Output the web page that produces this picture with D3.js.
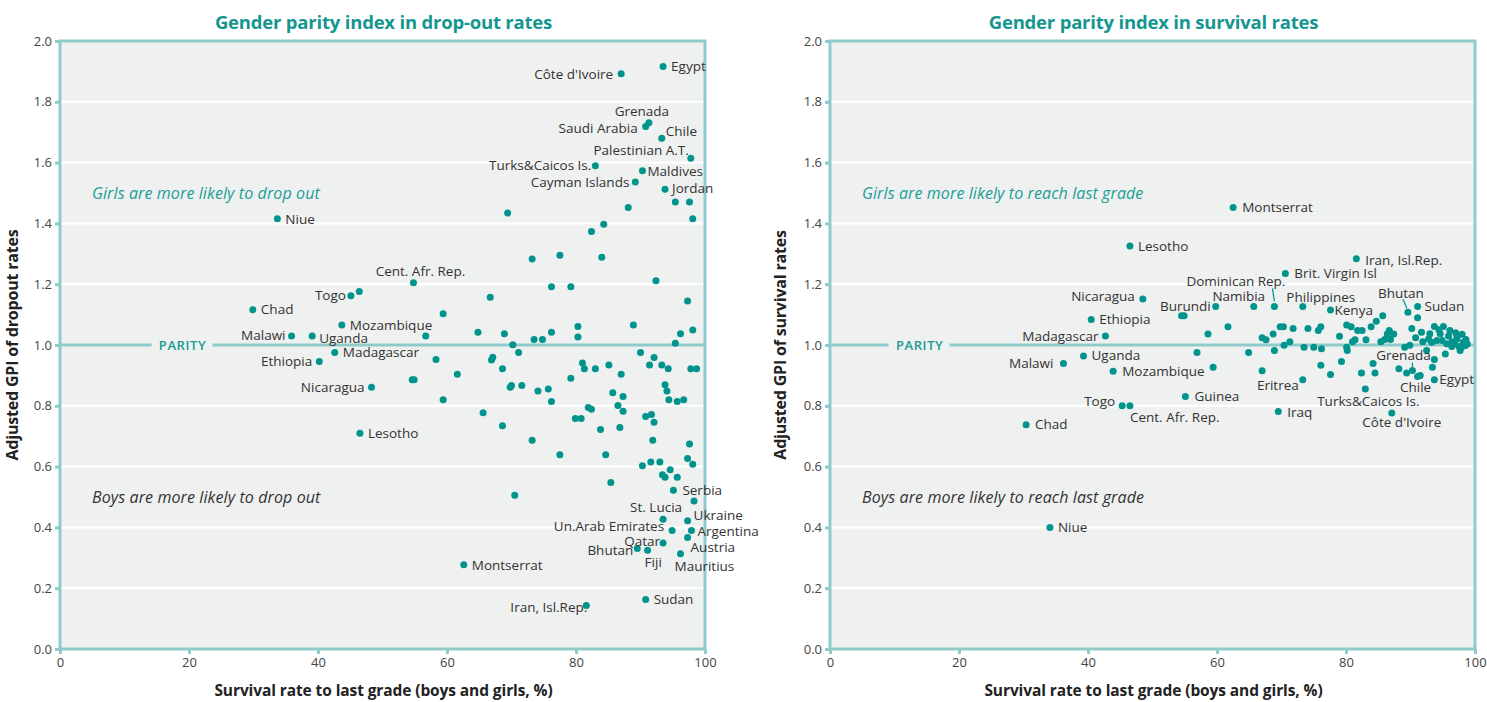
<!DOCTYPE html>
<html><head><meta charset="utf-8">
<script src="https://cdn.jsdelivr.net/npm/d3@7"></script>
<style>body{margin:0;background:#fff;} svg{display:block;}</style>
</head><body><svg id="c" width="1487" height="702"></svg>
<script>
// ---------- axes ----------
const xTickValues = [0, 20, 40, 60, 80, 100];
const yTickValues = [0, 0.2, 0.4, 0.6, 0.8, 1.0, 1.2, 1.4, 1.6, 1.8, 2.0];
const panelTitles = ["Gender parity index in drop-out rates", "Gender parity index in survival rates"];
const yAxisTitles = ["Adjusted GPI of dropout rates", "Adjusted GPI of survival rates"];
const xAxisTitle = "Survival rate to last grade (boys and girls, %)";
const girlsNotes = ["Girls are more likely to drop out", "Girls are more likely to reach last grade"];
const boysNotes = ["Boys are more likely to drop out", "Boys are more likely to reach last grade"];

// ---------- panel 1: drop-out GPI ----------
const dropoutCountries = ["Côte d'Ivoire","Egypt","Grenada","Saudi Arabia","Chile","Palestinian A.T.","Turks&Caicos Is.","Maldives","Cayman Islands","Jordan","Niue","Cent. Afr. Rep.","Togo","Chad","Mozambique","Malawi","Uganda","Madagascar","Ethiopia","Nicaragua","Lesotho","Serbia","St. Lucia","Ukraine","Un.Arab Emirates","Argentina","Austria","Qatar","Bhutan","Fiji","Mauritius","Montserrat","Sudan","Iran, Isl.Rep."];
const dropoutSurvival = [87.0,93.5,91.3,90.8,93.3,97.8,83.0,90.3,89.2,93.8,33.7,54.8,45.1,29.9,43.7,35.9,39.1,42.6,40.2,48.3,46.5,95.1,93.5,97.3,94.9,97.9,97.3,93.5,89.5,91.1,96.2,62.6,90.8,81.6];
const dropoutGPI = [1.892,1.916,1.731,1.719,1.680,1.614,1.590,1.573,1.536,1.512,1.415,1.205,1.162,1.116,1.066,1.030,1.030,0.975,0.946,0.861,0.710,0.522,0.427,0.422,0.390,0.390,0.367,0.349,0.331,0.325,0.313,0.277,0.163,0.143];
// unlabelled countries
const dropoutOtherSurvival = [95.4,97.6,98.1,69.4,88.1,84.3,82.4,77.5,73.2,84.0,92.4,76.2,79.2,66.7,97.3,46.4,59.4,56.7,64.8,68.9,80.3,80.3,76.2,73.5,74.8,88.9,98.1,96.2,95.4,70.2,
  71.1,58.3,67.1,66.9,68.6,54.6,54.9,61.6,81.0,81.3,83.0,85.1,87.0,90.0,92.1,91.4,93.3,94.3,97.8,98.7,79.2,69.8,70.0,71.6,74.1,75.7,76.2,59.4,85.7,87.3,86.5,87.3,93.8,94.1,94.4,95.7,96.7,
  65.6,68.6,73.2,77.5,79.9,80.8,81.9,82.4,83.8,84.6,86.8,90.8,91.7,92.1,91.9,97.6,97.3,98.1,90.3,91.6,93.0,94.6,93.4,93.8,95.7,85.4,98.3,70.5];
const dropoutOtherGPI = [1.470,1.470,1.415,1.434,1.452,1.397,1.373,1.295,1.283,1.289,1.211,1.192,1.192,1.157,1.145,1.176,1.103,1.030,1.042,1.037,1.061,1.026,1.042,1.018,1.018,1.066,1.049,1.037,1.006,1.001,
  0.975,0.952,0.960,0.951,0.922,0.886,0.886,0.904,0.941,0.922,0.922,0.934,0.904,0.975,0.959,0.934,0.934,0.922,0.922,0.922,0.891,0.861,0.867,0.867,0.849,0.855,0.814,0.820,0.843,0.831,0.801,0.782,0.869,0.849,0.820,0.814,0.820,
  0.777,0.734,0.687,0.639,0.758,0.758,0.794,0.789,0.722,0.639,0.729,0.765,0.771,0.746,0.687,0.674,0.627,0.608,0.603,0.615,0.615,0.590,0.573,0.565,0.565,0.548,0.487,0.506];

// ---------- panel 2: survival GPI ----------
const survivalCountries = ["Montserrat","Lesotho","Iran, Isl.Rep.","Brit. Virgin Isl","Nicaragua","Dominican Rep.","Namibia","Burundi","Philippines","Kenya","Bhutan","Sudan","Ethiopia","Madagascar","Uganda","Malawi","Mozambique","Grenada","Chile","Egypt","Eritrea","Turks&Caicos Is.","Guinea","Togo","Cent. Afr. Rep.","Iraq","Côte d'Ivoire","Chad","Niue"];
const survivalSurvival = [62.5,46.5,81.6,70.6,48.5,68.9,65.7,59.8,73.3,77.6,89.6,91.1,40.5,42.7,39.3,36.2,43.9,90.3,91.1,93.7,73.3,83.0,55.1,45.3,46.5,69.5,87.1,30.4,34.1];
const survivalGPI = [1.452,1.326,1.284,1.235,1.151,1.127,1.127,1.127,1.127,1.115,1.108,1.127,1.084,1.030,0.964,0.939,0.914,0.916,0.896,0.886,0.886,0.855,0.831,0.800,0.800,0.781,0.776,0.738,0.400];
const survivalOtherSurvival = [54.5,54.9,58.6,61.7,56.9,64.9,59.4,67.0,67.0,67.6,68.7,68.9,69.8,70.3,71.8,70.4,71.3,73.5,74.1,75.0,75.7,76.1,76.2,76.1,77.6,79.0,79.3,80.1,80.2,80.1,80.8,81.0,81.4,81.8,82.5,83.1,83.9,84.7,85.7,84.2,82.4,84.5,85.4,86.4,86.7,87.4,86.9,86.0,88.2,89.4,89.1,89.9,90.2,91.1,90.8,91.7,91.9,92.5,93.7,93.4,95.4,93.0,93.7,94.6,95.1,96.1,96.4,97.2,97.7,98.2,97.9,94.1,94.9,95.6,93.3,96.4,97.2,98.5,91.5,97.0,98.8,98.0,96.8,95.9,94.4,92.8,97.5,98.6];
const survivalOtherGPI = [1.096,1.096,1.036,1.060,0.975,0.975,0.927,0.915,1.024,1.017,1.036,0.982,1.060,1.060,1.054,0.999,1.011,0.993,1.054,0.993,1.048,1.060,0.988,0.933,0.903,1.029,0.946,0.993,0.982,1.066,1.060,1.011,1.017,1.048,1.048,1.017,1.060,1.078,1.096,0.939,0.908,0.908,1.011,1.036,1.048,1.036,1.018,1.018,0.922,0.908,0.993,0.999,1.054,1.090,1.024,1.042,1.011,0.982,0.952,0.927,0.970,1.037,1.061,1.037,1.061,1.048,1.011,1.020,0.982,1.009,0.993,1.015,1.015,1.004,1.009,0.995,1.026,0.998,0.900,1.040,1.003,1.035,1.005,1.030,1.050,1.020,0.995,1.018];

// ---------- label placement (layout config: dx, dy, anchor) ----------
const dropoutLabelPlacement = {
  "Côte d'Ivoire":[-8,0,"end"],"Egypt":[8,0,"start"],"Grenada":[-7,-12,"middle"],"Saudi Arabia":[-8,2,"end"],
  "Chile":[4,-7,"start"],"Palestinian A.T.":[-2,-8,"end"],"Turks&Caicos Is.":[-4,0,"end"],"Maldives":[5,0,"start"],
  "Cayman Islands":[-6,0,"end"],"Jordan":[7,-1,"start"],"Niue":[8,0,"start"],"Cent. Afr. Rep.":[7,-11,"middle"],
  "Togo":[-5,0,"end"],"Chad":[8,0,"start"],"Mozambique":[8,0,"start"],"Malawi":[-6,-1,"end"],"Uganda":[7,2,"start"],
  "Madagascar":[8,0,"start"],"Ethiopia":[-7,0,"end"],"Nicaragua":[-7,0,"end"],"Lesotho":[8,0,"start"],
  "Serbia":[9,0,"start"],"St. Lucia":[-7,-12,"middle"],"Ukraine":[6,-5,"start"],"Un.Arab Emirates":[-8,-4,"end"],
  "Argentina":[6,1,"start"],"Austria":[3,10,"start"],"Qatar":[-3,-2,"end"],"Bhutan":[-4,2,"end"],"Fiji":[-3,12,"start"],
  "Mauritius":[-6,12,"start"],"Montserrat":[8,0,"start"],"Sudan":[8,0,"start"],"Iran, Isl.Rep.":[1,2,"end"]
};
const survivalLabelPlacement = {
  "Montserrat":[9,0,"start"],"Lesotho":[8,0,"start"],"Iran, Isl.Rep.":[9,2,"start"],"Brit. Virgin Isl":[9,0,"start"],
  "Nicaragua":[-8,-3,"end"],"Dominican Rep.":[11,-25,"end"],"Namibia":[-15,-10,"middle"],"Burundi":[-5,0,"end"],
  "Philippines":[18,-9,"middle"],"Kenya":[4,0,"start"],"Bhutan":[-7,-19,"middle"],"Sudan":[7,0,"start"],
  "Ethiopia":[8,0,"start"],"Madagascar":[-7,0,"end"],"Uganda":[8,-1,"start"],"Malawi":[-10,0,"end"],
  "Mozambique":[9,0,"start"],"Grenada":[-9,-15,"middle"],"Chile":[-2,11,"middle"],"Egypt":[5,0,"start"],
  "Eritrea":[-4,6,"end"],"Turks&Caicos Is.":[3,12,"middle"],"Côte d'Ivoire":[10,9,"middle"],"Guinea":[9,0,"start"],
  "Togo":[-7,-5,"end"],"Cent. Afr. Rep.":[0,11,"start"],"Iraq":[9,1,"start"],"Chad":[9,0,"start"],"Niue":[8,0,"start"]
};
const survivalLeaders = {"Dominican Rep.":[-2,-18,0,-5],"Bhutan":[-5,-13,-1,-4],"Grenada":[0,-8,0,-3]};

// ---------- drawing ----------
const svg = d3.select("#c");
const FONT = "'Open Sans', 'Noto Sans', sans-serif";
const frameCol = "#8fcbcb", teal = "#00948d", textCol = "#333";

const panels = [
  {x0:60, x1:705, y0:41, y1:649, names:dropoutCountries, xs:dropoutSurvival, ys:dropoutGPI,
   oxs:dropoutOtherSurvival, oys:dropoutOtherGPI, place:dropoutLabelPlacement, leaders:{}, parityX:19, ylabOff:42},
  {x0:830, x1:1475, y0:41, y1:649, names:survivalCountries, xs:survivalSurvival, ys:survivalGPI,
   oxs:survivalOtherSurvival, oys:survivalOtherGPI, place:survivalLabelPlacement, leaders:survivalLeaders, parityX:13.9, ylabOff:44}
];

panels.forEach((p, i) => {
  const x = d3.scaleLinear().domain([0,100]).range([p.x0, p.x1]);
  const y = d3.scaleLinear().domain([0,2]).range([p.y1, p.y0]);
  const g = svg.append("g");

  g.append("rect").attr("x", p.x0).attr("y", p.y0).attr("width", p.x1-p.x0).attr("height", p.y1-p.y0)
    .attr("fill", "#eff0f0");

  // white gridlines
  g.selectAll(".grid").data(yTickValues.filter(v => v > 0 && v < 2 && Math.abs(v-1) > 1e-9)).enter()
    .append("line").attr("x1", p.x0).attr("x2", p.x1).attr("y1", d => y(d)).attr("y2", d => y(d))
    .attr("stroke", "#fff").attr("stroke-width", 2.2);

  // parity line with label gap
  const pcx = x(p.parityX);
  g.append("line").attr("x1", p.x0).attr("x2", pcx-31).attr("y1", y(1)).attr("y2", y(1))
    .attr("stroke", frameCol).attr("stroke-width", 3);
  g.append("line").attr("x1", pcx+30).attr("x2", p.x1).attr("y1", y(1)).attr("y2", y(1))
    .attr("stroke", frameCol).attr("stroke-width", 3);
  g.append("text").attr("x", pcx).attr("y", y(1)).attr("dy", "0.36em").attr("text-anchor", "middle")
    .attr("font-family", FONT).attr("font-weight", 600).attr("font-size", 13).attr("fill", "#1a9b94")
    .attr("letter-spacing", 0.6).text("PARITY");

  // frame
  g.append("rect").attr("x", p.x0).attr("y", p.y0).attr("width", p.x1-p.x0).attr("height", p.y1-p.y0)
    .attr("fill", "none").attr("stroke", frameCol).attr("stroke-width", 3);

  // axes
  const xa = g.append("g").attr("transform", `translate(0,${p.y1})`)
    .call(d3.axisBottom(x).tickValues(xTickValues).tickSize(5).tickPadding(4).tickFormat(d3.format("d")));
  const ya = g.append("g").attr("transform", `translate(${p.x0},0)`)
    .call(d3.axisLeft(y).tickValues(yTickValues).tickSize(5).tickPadding(3).tickFormat(d3.format(".1f")));
  [xa, ya].forEach(a => {
    a.select(".domain").remove();
    a.selectAll(".tick line").attr("stroke", frameCol).attr("stroke-width", 3);
    a.selectAll(".tick text").attr("font-family", FONT).attr("font-size", 13).attr("fill", "#444");
  });

  // titles
  g.append("text").attr("x", (p.x0+p.x1)/2 + 1).attr("y", 29).attr("text-anchor", "middle")
    .attr("font-family", FONT).attr("font-weight", 700).attr("font-size", 18.5).attr("fill", "#14968f")
    .attr("letter-spacing", -0.2).text(panelTitles[i]);
  g.append("text").attr("x", (p.x0+p.x1)/2 + 1).attr("y", 696).attr("text-anchor", "middle")
    .attr("font-family", FONT).attr("font-weight", 700).attr("font-size", 15.5).attr("fill", "#222")
    .attr("letter-spacing", -0.1).text(xAxisTitle);
  g.append("text").attr("transform", `translate(${p.x0-p.ylabOff},${y(1)}) rotate(-90)`).attr("text-anchor", "middle")
    .attr("font-family", FONT).attr("font-weight", 700).attr("font-size", 16).attr("fill", "#222")
    .attr("letter-spacing", -0.2).text(yAxisTitles[i]);

  // notes
  g.append("text").attr("x", p.x0+32).attr("y", y(1.5)+6).attr("font-family", FONT).attr("font-style", "italic")
    .attr("font-size", 16).attr("fill", "#1a9e96").attr("letter-spacing", 0.1).text(girlsNotes[i]);
  g.append("text").attr("x", p.x0+32).attr("y", y(0.5)+6).attr("font-family", FONT).attr("font-style", "italic")
    .attr("font-size", 16).attr("fill", "#333").attr("letter-spacing", 0.1).text(boysNotes[i]);

  // unlabelled dots
  g.selectAll(".od").data(p.oxs.map((v, k) => [v, p.oys[k]])).enter().append("circle")
    .attr("cx", d => x(d[0])).attr("cy", d => y(d[1])).attr("r", 3.5).attr("fill", teal);

  // labelled dots
  const lab = p.names.map((n, k) => ({n, v: p.xs[k], g: p.ys[k]}));
  g.selectAll(".ld").data(lab).enter().append("circle")
    .attr("cx", d => x(d.v)).attr("cy", d => y(d.g)).attr("r", 3.5).attr("fill", teal);

  lab.forEach(d => {
    const pl = p.place[d.n] || [8, 0, "start"];
    const cx = x(d.v), cy = y(d.g);
    if (p.leaders[d.n]) {
      const L = p.leaders[d.n];
      g.append("line").attr("x1", cx+L[0]).attr("y1", cy+L[1]).attr("x2", cx+L[2]).attr("y2", cy+L[3])
        .attr("stroke", teal).attr("stroke-width", 1.2);
    }
    g.append("text").attr("x", cx+pl[0]).attr("y", cy+pl[1]).attr("dy", "0.35em").attr("text-anchor", pl[2])
      .attr("font-family", FONT).attr("font-size", 13.5).attr("fill", textCol).text(d.n);
  });
});
</script></body></html>
